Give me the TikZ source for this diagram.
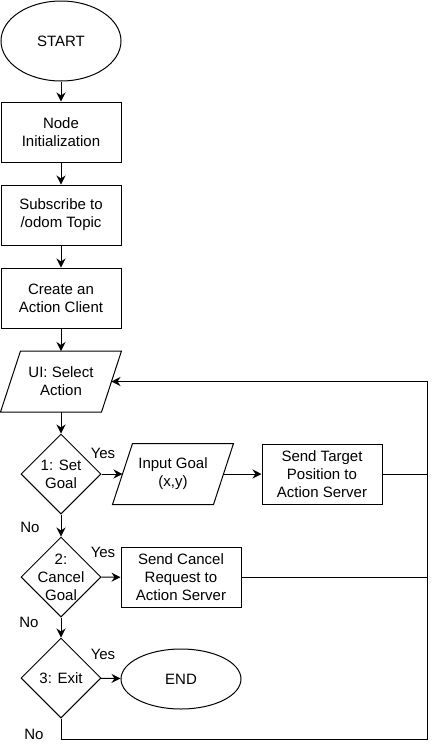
\documentclass[tikz,border=0pt]{standalone}
\usepackage{fontspec}
\setmainfont{Liberation Sans}
\usetikzlibrary{shapes.geometric,arrows.meta,calc}
\tikzset{
  base/.style={draw=black,line width=1pt,inner sep=0pt,align=center,font=\fontsize{15}{18}\selectfont},
  procbox/.style={base,rectangle,minimum width=120pt,minimum height=60pt},
  term/.style={base,ellipse,minimum width=120pt,minimum height=60pt},
  para/.style={base,draw=none,rectangle,minimum width=120pt,minimum height=60pt},
  decide/.style={base,diamond,minimum width=80pt,minimum height=80pt},
  arr/.style={line width=1pt,-{Stealth[length=9pt,width=9pt,inset=3pt]}},
  conn/.style={line width=1pt},
  lbl/.style={font=\fontsize{15}{18}\selectfont,inner sep=0pt},
}
\begin{document}
\begin{tikzpicture}[x=1pt,y=-1pt]
\useasboundingbox[fill=white] (0,0) rectangle (432,750);
\node[term,minimum height=80pt] (start) at (61,41) {START};
\node[procbox] (init) at (61,132) {Node\\Initialization};
\node[procbox] (sub) at (61,215) {Subscribe to\\/odom Topic};
\node[procbox] (create) at (61,298) {Create an\\Action Client};
\node[para] (ui) at (61,381.5) {UI: Select\\Action};
\draw[conn] ($(ui.north west)+(20,0)$) -- (ui.north east) -- ($(ui.south east)-(20,0)$) -- (ui.south west) -- cycle;
\coordinate (uiR) at ($(ui.east)-(10,0)$);
\node[decide,label={[lbl,align=center]center:1: Set\\Goal}] (d1) at (61,474) {};
\node[para] (input) at (173,474) {Input Goal\\(x,y)};
\draw[conn] ($(input.north west)+(20,0)$) -- (input.north east) -- ($(input.south east)-(20,0)$) -- (input.south west) -- cycle;
\coordinate (inL) at ($(input.west)+(10,0)$);
\coordinate (inR) at ($(input.east)-(10,0)$);
\node[procbox] (target) at (322,474) {Send Target\\Position to\\Action Server};
\node[decide,label={[lbl,align=center]center:2:\\Cancel\\Goal}] (d2) at (61,577) {};
\node[procbox] (cancel) at (181,577.5) {Send Cancel\\Request to\\Action Server};
\node[decide,label={[lbl,align=center]center:3: Exit}] (d3) at (61,678) {};
\node[term] (end) at (181,679) {END};
\coordinate (loopB) at (427,739);
\draw[arr] (start) -- (init);
\draw[arr] (init) -- (sub);
\draw[arr] (sub) -- (create);
\draw[arr] (create) -- (ui);
\draw[arr] (ui) -- (d1);
\draw[arr] (d1) -- (inL);
\draw[arr] (inR) -- (target);
\draw[arr] (d1) -- (d2);
\draw[arr] (d2) -- (cancel);
\draw[arr] (d2) -- (d3);
\draw[arr] (d3) -- (end);
\draw[arr] (d3.south) |- (loopB) |- (uiR);
\draw[conn] (target.east) -- (target.east -| loopB);
\draw[conn] (cancel.east) -- (cancel.east -| loopB);
\node[lbl] (y1) at (103,453) {Yes};
\node[lbl] (n1) at (30,527) {No};
\node[lbl] (y2) at (103,552) {Yes};
\node[lbl] (n2) at (29,622) {No};
\node[lbl] (y3) at (103,654) {Yes};
\node[lbl] (n3) at (34,734) {No};
\end{tikzpicture}
\end{document}
